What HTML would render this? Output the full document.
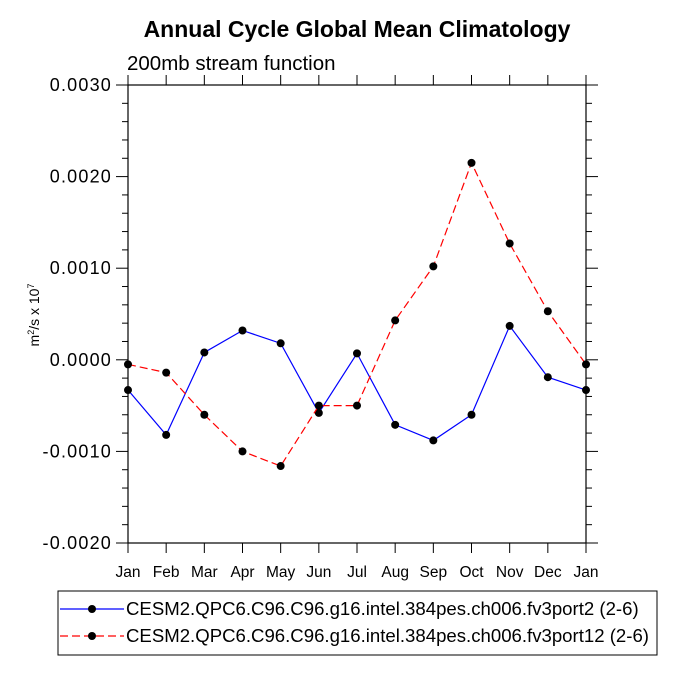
<!DOCTYPE html>
<html><head><meta charset="utf-8"><style>body{margin:0;background:#fff}svg{display:block;font-family:"Liberation Sans",Arial,sans-serif}</style></head>
<body>
<svg id="chart" width="675" height="675">
<text x="357" y="37" text-anchor="middle" font-size="23" font-weight="bold">Annual Cycle Global Mean Climatology</text>
<text x="127" y="70" font-size="20.5">200mb stream function</text>
<text transform="translate(39,315) rotate(-90)" text-anchor="middle" font-size="14">m<tspan dy="-5" font-size="9">2</tspan><tspan dy="5">/s x 10</tspan><tspan dy="-5" font-size="9">7</tspan></text>
<g id="axes"></g>
<g id="series"></g>
<g>
<rect x="58" y="591" width="599" height="64" fill="none" stroke="#000" stroke-width="1"/>
<line x1="60" y1="609" x2="124" y2="609" stroke="#00f" stroke-width="1.2"/>
<circle cx="92" cy="609" r="4" fill="#000"/>
<text x="126" y="615" font-size="18.6">CESM2.QPC6.C96.C96.g16.intel.384pes.ch006.fv3port2 (2-6)</text>
<line x1="60" y1="636" x2="124" y2="636" stroke="#f00" stroke-width="1.2" stroke-dasharray="8,4"/>
<circle cx="92" cy="636" r="4" fill="#000"/>
<text x="126" y="642" font-size="18.6">CESM2.QPC6.C96.C96.g16.intel.384pes.ch006.fv3port12 (2-6)</text>
</g>
</svg>
<script>
const months=["Jan","Feb","Mar","Apr","May","Jun","Jul","Aug","Sep","Oct","Nov","Dec","Jan"];
const fv3port2=[-0.00033,-0.00082,0.00008,0.00032,0.00018,-0.00058,0.00007,-0.00071,-0.00088,-0.0006,0.00037,-0.00019,-0.00033];
const fv3port12=[-0.00005,-0.00014,-0.0006,-0.001,-0.00116,-0.0005,-0.0005,0.00043,0.00102,0.00215,0.00127,0.00053,-0.00005];
const yTicks=[0.003,0.002,0.001,0,-0.001,-0.002];
const yTickLabels=["0.0030","0.0020","0.0010","0.0000","-0.0010","-0.0020"];
const X0=128,X1=586,Y0=85,Y1=543,YMIN=-0.002,YMAX=0.003;
const NS="http://www.w3.org/2000/svg";
const xs=i=>X0+(X1-X0)*i/(months.length-1);
const ys=v=>Y1-(v-YMIN)/(YMAX-YMIN)*(Y1-Y0);
function mk(t,a,p){const e=document.createElementNS(NS,t);for(const k in a)e.setAttribute(k,a[k]);p.appendChild(e);return e;}
const ax=document.getElementById('axes');
const frame=mk('rect',{x:X0,y:Y0,width:X1-X0,height:Y1-Y0,fill:'none',stroke:'#000','stroke-width':1.2},ax);


for(let v=YMIN;v<=YMAX+1e-9;v+=0.0002){
  const y=ys(v);const major=Math.abs(Math.round(v/0.001)*0.001-v)<1e-9;const L=major?12:6;
  mk('line',{x1:X0-L,y1:y,x2:X0,y2:y,stroke:'#000'},ax);
  mk('line',{x1:X1,y1:y,x2:X1+L,y2:y,stroke:'#000'},ax);
}
yTicks.forEach((v,i)=>{const t=mk('text',{x:X0-16,y:ys(v)+6,'text-anchor':'end','font-size':18,'letter-spacing':1.2},ax);t.textContent=yTickLabels[i];

});
months.forEach((m,i)=>{const x=xs(i);
  mk('line',{x1:x,y1:Y0-10,x2:x,y2:Y0,stroke:'#000'},ax);
  mk('line',{x1:x,y1:Y1,x2:x,y2:Y1+10,stroke:'#000'},ax);
  const t=mk('text',{x:x,y:Y1+34,'text-anchor':'middle','font-size':15.5},ax);t.textContent=m;
  
  });
const sg=document.getElementById('series');
function series(data,color,dash,name){
  const p=mk('polyline',{points:data.map((v,i)=>xs(i)+','+ys(v)).join(' '),fill:'none',stroke:color,'stroke-width':1.2,'stroke-dasharray':dash},sg);
  
  
  data.forEach((v,i)=>{const c=mk('circle',{cx:xs(i),cy:ys(v),r:4,fill:'#000'},sg);
    
    });
}
series(fv3port2,'#00f','none','fv3port2');
series(fv3port12,'#f00','8,4','fv3port12');
</script>
</body></html>
